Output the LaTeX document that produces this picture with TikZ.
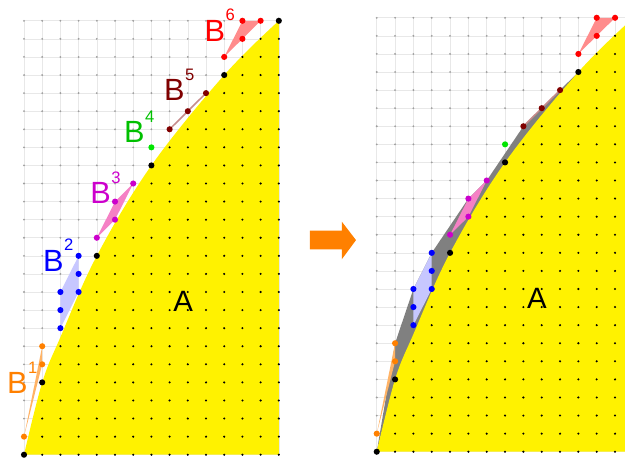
\documentclass[tikz,border=0pt]{standalone}
\usepackage{fontspec}
\setmainfont{Liberation Sans}
\usepackage{tikz}
\usetikzlibrary{arrows.meta, positioning}

\definecolor{setorange}{HTML}{FF8000}
\definecolor{setblue}{HTML}{0000FF}
\definecolor{setmagenta}{HTML}{CC00CC}
\definecolor{setgreen}{HTML}{00C000}
\definecolor{setmaroon}{HTML}{800000}
\definecolor{setred}{HTML}{FF0000}

% one lattice panel: grid, region A, sets B^1..B^6; #1 is drawn below A
\newcommand{\latticepanel}[1]{%
  \foreach \i in {0,...,14} \draw[gridline] (\i,0) -- (\i,24);
  \foreach \j in {0,...,24} \draw[gridline] (0,\j) -- (14,\j);
  \foreach \i in {0,...,14} \foreach \j in {0,...,24} \fill[gridpt] (\i,\j) circle[radius=0.8pt];
  #1
  % region A
  \fill[regionA] plot[smooth, tension=0.6] coordinates {(0,0) (1,4) (2,6.5) (4,11) (7,16) (11,21) (14,24)} -- (14,0) -- cycle;
  \foreach \i/\m in {0/0,1/4,2/6,3/8,4/11,5/12,6/14,7/16,8/17,9/18,10/19,11/21,12/22,13/23,14/24}
    \foreach \j in {0,...,\m} \fill[apt] (\i,\j) circle[radius=0.9pt];
  % B^1
  \coordinate (b1a) at (0,1); \coordinate (b1b) at (1,5); \coordinate (b1c) at (1,6);
  \fill[fillone] (b1a) -- (b1b) -- (b1c) -- cycle;
  % B^2
  \coordinate (b2a) at (2,7); \coordinate (b2b) at (2,8); \coordinate (b2c) at (2,9);
  \coordinate (b2d) at (3,9); \coordinate (b2e) at (3,10); \coordinate (b2f) at (3,11);
  \fill[filltwo] (b2a) -- (b2d) -- (b2f) -- (b2c) -- cycle;
  % B^3
  \coordinate (b3a) at (4,12); \coordinate (b3b) at (5,13); \coordinate (b3c) at (5,14); \coordinate (b3d) at (6,15);
  \fill[fillthree] (b3a) -- (b3b) -- (b3d) -- (b3c) -- cycle;
  % B^4
  \coordinate (b4a) at (7,17);
  % B^5
  \coordinate (b5a) at (8,18); \coordinate (b5b) at (9,19); \coordinate (b5c) at (10,20);
  \draw[linefive] (b5a) -- (b5c);
  % B^6
  \coordinate (b6a) at (11,22); \coordinate (b6b) at (12,23); \coordinate (b6c) at (12,24); \coordinate (b6d) at (13,24);
  \fill[fillsix] (b6a) -- (b6d) -- (b6c) -- cycle;
  % points
  \foreach \p in {b1a,b1b,b1c} \fill[setorange] (\p) circle[radius=2.4pt];
  \foreach \p in {b2a,b2b,b2c,b2d,b2e,b2f} \fill[setblue] (\p) circle[radius=2.4pt];
  \foreach \p in {b3a,b3b,b3c,b3d} \fill[setmagenta] (\p) circle[radius=2.4pt];
  \fill[green!90!black] (b4a) circle[radius=2.4pt];
  \foreach \p in {b5a,b5b,b5c} \fill[setmaroon] (\p) circle[radius=2.4pt];
  \foreach \p in {b6a,b6b,b6c,b6d} \fill[setred] (\p) circle[radius=2.4pt];
  % corners of A
  \foreach \p in {(0,0),(1,4),(4,11),(7,16),(11,21),(14,24)} \fill \p circle[radius=2.4pt];
  \node[alabel] (areaA) at (8.74,8.5) {A};
}

\begin{document}
\begin{tikzpicture}[
    x=0.5005cm, y=0.4972cm,
    node distance=0pt,
    gridline/.style={draw=black!9, line width=0.45pt},
    gridpt/.style={fill=black!38},
    apt/.style={fill=black},
    regionA/.style={fill=yellow},
    hullgray/.style={fill=black!50},
    fillone/.style={fill=setorange!60},
    filltwo/.style={fill=setblue!22},
    fillthree/.style={fill=magenta!50},
    linefive/.style={draw=setmaroon!45, line width=1.2pt},
    fillsix/.style={fill=setred!45},
    blabel/.style={inner sep=0pt, font=\fontsize{24}{24}\selectfont},
    bsup/.style={inner sep=0pt, font=\fontsize{13}{13}\selectfont},
    alabel/.style={inner sep=0pt, font=\fontsize{23}{23}\selectfont},
    bigarrow/.style={fill=setorange},
]
\useasboundingbox (-1.319,-0.183) rectangle (33.02,25.15);

% left panel
\latticepanel{}

% labels of the sets
\node[blabel, text=setorange] (lb1) at (-0.37,3.95) {B};
\node[bsup, text=setorange, above right=-1pt and 0pt of lb1] (sup1) {1};
\node[blabel, text=setblue] (lb2) at (1.61,10.73) {B};
\node[bsup, text=setblue, above right=-1pt and 0pt of lb2] (sup2) {2};
\node[blabel, text=setmagenta] (lb3) at (4.21,14.46) {B};
\node[bsup, text=setmagenta, above right=-1pt and 0pt of lb3] (sup3) {3};
\node[blabel, text=setgreen] (lb4) at (6.06,17.86) {B};
\node[bsup, text=setgreen, above right=-1pt and 0pt of lb4] (sup4) {4};
\node[blabel, text=setmaroon] (lb5) at (8.26,20.17) {B};
\node[bsup, text=setmaroon, above right=-1pt and 0pt of lb5] (sup5) {5};
\node[blabel, text=setred] (lb6) at (10.49,23.45) {B};
\node[bsup, text=setred, above right=-1pt and 0pt of lb6] (sup6) {6};

% arrow between the panels
\fill[bigarrow] (15.71,12.39) -- (17.46,12.39) -- (17.46,12.89) -- (18.24,11.87)
  -- (17.46,10.81) -- (17.46,11.36) -- (15.71,11.36) -- cycle;

% right panel
\begin{scope}[shift={(19.38,0.166)}, xscale=1.007]
  \clip (-0.8,-0.5) rectangle (13.55,25.5);
  \latticepanel{\fill[hullgray] (0,0) -- (1,6) -- (2,9) -- (3,11) -- (5,14) -- (6,15) -- (8,18)
    -- (10,20) -- (11,21) -- (7,16) -- (4,11) -- (1,4) -- cycle;}
\end{scope}

\end{tikzpicture}
\end{document}
